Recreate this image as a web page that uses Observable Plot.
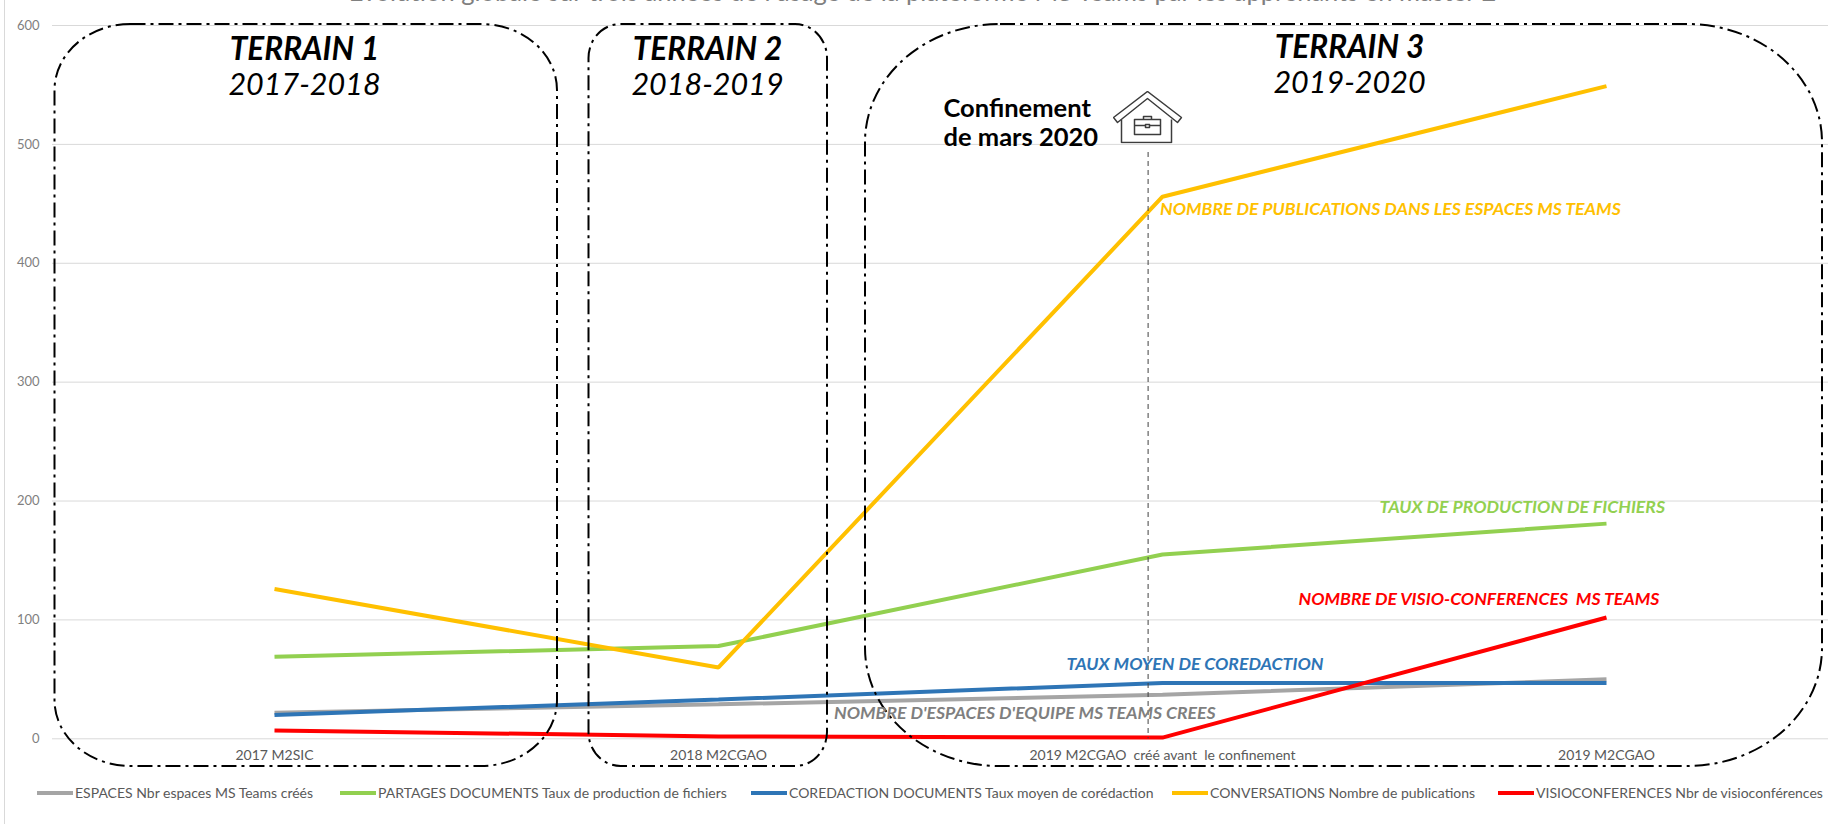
<!DOCTYPE html>
<html><head><meta charset="utf-8">
<script src="https://cdn.jsdelivr.net/npm/d3@7"></script>
<script src="https://cdn.jsdelivr.net/npm/@observablehq/plot@0.6"></script>
<style>
html,body{margin:0;padding:0;background:#fff;overflow:hidden;width:1829px;height:824px}
#chart{position:absolute;left:0;top:0}
#edge{position:absolute;left:4px;top:0;width:1px;height:824px;background:#d9d9d9}
#legend{position:absolute;left:0;top:775px;width:1829px;height:36px;font:14px Lato,sans-serif;color:#595959}
#legend .item{position:absolute;top:9px;display:flex;align-items:center;white-space:nowrap;line-height:18px}
#legend .sw{display:inline-block;width:36px;height:4px;margin-right:2px}
</style></head><body>
<div id="chart"></div><div id="edge"></div><div id="legend"></div>
<script>
const categories = ["2017 M2SIC","2018 M2CGAO","2019 M2CGAO  créé avant  le confinement","2019 M2CGAO"];
const espaces   = [22,29,37,50];
const partages  = [69,78,155,181];
const coredaction = [20,33,47,47];
const conversations = [126,60,456,549];
const visio     = [7,2,1,102];
const seriesNames = [
  "ESPACES Nbr espaces MS Teams créés",
  "PARTAGES DOCUMENTS Taux de production de fichiers",
  "COREDACTION DOCUMENTS Taux moyen de corédaction",
  "CONVERSATIONS Nombre de publications",
  "VISIOCONFERENCES Nbr de visioconférences"];
const seriesValues = [espaces,partages,coredaction,conversations,visio];
const seriesColors = ["#a5a5a5","#92d050","#2e75b6","#ffc000","#ff0000"];
const legendLeft = [37,340,751,1172,1498];

const W=1829,H=775,mL=52,mR=1,mT=25,mB=H-738.3;
// annotation placement helpers: pixel position on the picture -> scale units
const step=(W-mL-mR)/4, X=p=>(p-mL)/step-0.5, pxU=(H-mT-mB)/600, Y=p=>(738.3-p)/pxU;

const lineRows = seriesValues.flatMap((vs,s)=>vs.map((v,i)=>({s,i,v})));

const frames=[
 {l:54.5,r:557,rx:76,ry:66},
 {l:588.5,r:827,rx:32,ry:34},
 {l:865,r:1822,rx:135,ry:118}];
const frameTop=24, frameBottom=766;

const terrains=[{t:"TERRAIN 1",x:304,y:49},{t:"TERRAIN 2",x:707,y:49},{t:"TERRAIN 3",x:1349,y:47}];
const years=[{t:"2017-2018",x:304,y:85},{t:"2018-2019",x:707,y:85},{t:"2019-2020",x:1349,y:83}];
const notes=[
 {t:"NOMBRE DE PUBLICATIONS DANS LES ESPACES MS TEAMS",x:1159.5,y:209,c:"#ffc000"},
 {t:"TAUX DE PRODUCTION DE FICHIERS",x:1379,y:507,c:"#92d050"},
 {t:"NOMBRE DE VISIO-CONFERENCES  MS TEAMS",x:1298,y:599,c:"#ff0000"},
 {t:"TAUX MOYEN DE COREDACTION",x:1066,y:664,c:"#2e75b6"},
 {t:"NOMBRE D'ESPACES D'EQUIPE MS TEAMS CREES",x:833.5,y:713,c:"#7f7f7f"}];
const confinement=[{t:"Confinement",x:943,y:108},{t:"de mars 2020",x:943,y:137}];

const house='<svg xmlns="http://www.w3.org/2000/svg" viewBox="0 0 70 53"><g fill="none" stroke="#3c3c3c" stroke-width="1.5" stroke-linejoin="round">'
 +'<path d="M1 27 35 1 69 27 65 32 35 8 5 32Z" fill="#fff"/><path d="M9 29V52H59V29"/>'
 +'<path d="M22 29H48V44H22ZM22 35H48M31 29V26H39V29"/><rect x="33" y="34" width="4" height="3" fill="#fff"/></g></svg>';
const houseSrc="data:image/svg+xml;utf8,"+encodeURIComponent(house);

const FF="Lato, sans-serif";
const plot=Plot.plot({
  width:W,height:H,marginLeft:mL,marginRight:mR,marginTop:mT,marginBottom:mB,
  style:{background:"#fff",fontFamily:FF},
  x:{type:"linear",domain:[-0.5,3.5]},
  y:{type:"linear",domain:[0,600]},
  marks:[
    Plot.gridY({ticks:[0,100,200,300,400,500,600],stroke:"#d9d9d9",strokeOpacity:1,strokeWidth:1}),
    Plot.axisY({ticks:[0,100,200,300,400,500,600],tickSize:0,tickPadding:13,label:null,fontSize:13,color:"#7f7f7f"}),
    Plot.axisX({ticks:[0,1,2,3],tickFormat:i=>categories[i],tickSize:0,tickPadding:11,label:null,fontSize:14,color:"#595959"}),
    Plot.line(lineRows,{x:"i",y:"v",z:"s",stroke:d=>seriesColors[d.s],strokeWidth:4,curve:"linear",strokeLinecap:"butt",strokeLinejoin:"miter"}),
    Plot.ruleX([X(1147.6)],{y1:Y(152),y2:0,stroke:"#404040",strokeWidth:1,strokeDasharray:"5,4"}),
    ...frames.map(f=>Plot.rect([f],{x1:d=>X(d.l),x2:d=>X(d.r),y1:Y(frameBottom),y2:Y(frameTop),rx:f.rx,ry:f.ry,fill:"none",stroke:"#000",strokeWidth:2,strokeDasharray:"15,5,3,5"})),
    Plot.text(terrains,{x:d=>X(d.x),y:d=>Y(d.y),text:"t",fontWeight:"bold",fontStyle:"italic",fontSize:31.5,fill:"#000",textAnchor:"middle"}),
    Plot.text(years,{x:d=>X(d.x),y:d=>Y(d.y),text:"t",fontStyle:"italic",fontSize:30.5,fill:"#000",textAnchor:"middle"}),
    Plot.text(confinement,{x:d=>X(d.x),y:d=>Y(d.y),text:"t",fontWeight:"bold",fontSize:25.5,fill:"#000",textAnchor:"start"}),
    Plot.text(notes,{x:d=>X(d.x),y:d=>Y(d.y),text:"t",fill:"c",fontWeight:"bold",fontStyle:"italic",fontSize:17.7,textAnchor:"start"}),
    Plot.image([0],{x:X(1147),y:Y(116.5),src:houseSrc,width:70,height:53,preserveAspectRatio:"none"}),
    Plot.text(["Évolution globale sur trois années de l'usage de la plateforme MS Teams par les apprenants en master 2"],{x:X(922),y:Y(-8),text:d=>d,fontSize:25.5,fill:"#808080",textAnchor:"middle"})
  ]
});
document.getElementById("chart").append(plot);
const lg=d3.select("#legend");
seriesNames.forEach((n,i)=>{
  const it=lg.append("div").attr("class","item").style("left",legendLeft[i]+"px");
  it.append("span").attr("class","sw").style("background",seriesColors[i]);
  it.append("span").text(n);
});
</script></body></html>
